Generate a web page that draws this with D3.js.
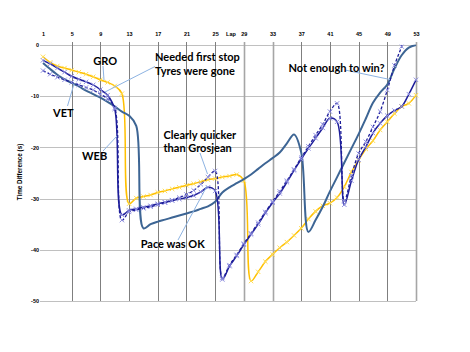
<!DOCTYPE html>
<html><head><meta charset="utf-8">
<script src="https://cdn.jsdelivr.net/npm/d3@7"></script>
<style>body{margin:0;background:#fff}svg{display:block}</style>
</head><body>
<svg id="chart" width="470" height="352"></svg>
<script>
const laps = [1,2,3,4,5,6,7,8,9,10,11,12,13,14,15,16,17,18,19,20,21,22,23,24,25,26,27,28,29,30,31,32,33,34,35,36,37,38,39,40,41,42,43,44,45,46,47,48,49,50,51,52,53];
const lapTicks = [1,5,9,13,17,21,25,29,33,37,41,45,49,53];
const yTicks = [0,-10,-20,-30,-40,-50];

const gro = [-2.3,-3.4,-4.1,-4.5,-4.9,-5.3,-5.7,-6.2,-6.8,-7.3,-8.0,-9.5,-31.0,-29.9,-29.6,-29.3,-28.8,-28.5,-28.1,-27.8,-27.4,-27.1,-26.7,-26.3,-26.1,-25.8,-25.6,-25.3,-26.5,-46.1,-44.3,-42.3,-40.9,-39.6,-38.5,-37.2,-35.8,-34.0,-32.5,-31.4,-30.9,-29.8,-27.7,-24.8,-22.5,-20.3,-18.7,-16.6,-15.0,-13.4,-12.0,-11.4,-9.8];
const vet = [-3.5,-4.7,-5.8,-6.7,-7.4,-8.1,-8.9,-9.6,-10.3,-11.1,-12.0,-13.0,-13.8,-15.8,-35.8,-35.0,-34.5,-34.1,-33.7,-33.3,-32.9,-32.5,-32.0,-31.5,-30.6,-28.8,-27.8,-27.0,-26.2,-25.3,-24.2,-23.1,-22.1,-21.0,-19.2,-17.5,-21.0,-36.5,-34.2,-31.6,-28.6,-25.8,-23.0,-20.2,-17.4,-14.4,-11.3,-9.3,-7.7,-4.6,-2.0,-0.5,0];
const web = [-3.0,-3.7,-4.5,-5.3,-6.1,-6.7,-7.2,-7.8,-8.7,-9.8,-12.5,-33.2,-32.3,-32.0,-31.7,-31.4,-31.0,-30.7,-30.4,-30.1,-29.8,-29.4,-28.7,-27.8,-28.5,-45.8,-43.2,-41.2,-39.0,-37.0,-35.0,-32.8,-30.8,-29.0,-26.8,-24.5,-22.3,-20.2,-18.2,-16.2,-14.3,-15.0,-31.2,-26.5,-22.4,-19.9,-17.2,-15.3,-13.8,-12.8,-12.0,-9.6,-6.8];
const rai = [-5.0,-5.7,-6.3,-6.8,-7.3,-7.8,-8.3,-8.8,-9.6,-10.5,-12.3,-34.2,-32.6,-32.2,-31.9,-31.6,-31.2,-30.8,-30.3,-29.8,-29.2,-28.4,-27.2,-25.8,-24.6,-45.5,-43.0,-41.0,-38.8,-36.8,-34.7,-32.6,-30.6,-28.6,-26.5,-24.3,-22.0,-19.8,-17.6,-15.5,-13.0,-11.4,-30.5,-25.5,-21.2,-18.9,-16.0,-13.0,-8.8,-4.0,-0.3,3.5,null];

const labels = [
  {t:"GRO", x:93.3, y:64.5},
  {t:"Needed first stop", x:155, y:61},
  {t:"Tyres were gone", x:155, y:75},
  {t:"VET", x:53, y:117},
  {t:"WEB", x:82, y:159.5},
  {t:"Clearly quicker", x:163.5, y:138.5},
  {t:"than Grosjean", x:163.5, y:152},
  {t:"Pace was OK", x:140.7, y:247.5},
  {t:"Not enough to win?", x:288.5, y:72}
];
const leaders = [
  [103,66,104,80],
  [155,66.5,105,92],
  [67.5,106,74,84],
  [103,151,117,136],
  [200,153,207.5,174],
  [178,240,207,186],
  [345,70,390,79.5]
];

const svg = d3.select("#chart");
const x = d3.scaleLinear().domain([1,53]).range([43,416]);
const y = d3.scaleLinear().domain([-50,0]).range([301,45]);

// gridlines
svg.append("g").selectAll("line").data(yTicks).join("line")
  .attr("x1",40).attr("x2",416).attr("y1",d=>Math.round(y(d))+0.5).attr("y2",d=>Math.round(y(d))+0.5)
  .attr("stroke","#c0c0c0").attr("stroke-width",1);
svg.append("g").selectAll("line").data(lapTicks.filter(d=>d>1)).join("line")
  .attr("x1",d=>Math.round(x(d))+0.5).attr("x2",d=>Math.round(x(d))+0.5).attr("y1",42).attr("y2",301)
  .attr("stroke",d=>(d===29||d===33||d===53)?"#a6a6a6":"#7f7f7f").attr("stroke-width",d=>(d===29||d===33||d===53)?1.6:1);

// axes
const xa = svg.append("g").attr("transform","translate(0,36)")
  .call(d3.axisTop(x).tickValues(lapTicks).tickSize(0).tickPadding(0));
xa.select(".domain").remove();
xa.selectAll("text").attr("font-family","Arial, Liberation Sans, sans-serif").attr("font-size",5.5).attr("font-weight","bold").attr("fill","#000");
const ya = svg.append("g").attr("transform","translate(39,0)")
  .call(d3.axisLeft(y).tickValues(yTicks).tickSize(0).tickPadding(0).tickFormat(d3.format("d")));
ya.select(".domain").remove();
ya.selectAll("text").attr("font-family","Arial, Liberation Sans, sans-serif").attr("font-size",5.5).attr("font-weight","bold").attr("fill","#000");
ya.selectAll("text").text(d=>d===0?"0":"-"+Math.abs(d));

svg.append("text").attr("x",231).attr("y",36).attr("text-anchor","middle")
  .attr("font-family","Arial, Liberation Sans, sans-serif").attr("font-size",5.5).attr("font-weight","bold").text("Lap");
svg.append("text").attr("transform","translate(21.5,172) rotate(-90)").attr("text-anchor","middle")
  .attr("font-family","Arial, Liberation Sans, sans-serif").attr("font-size",6.3).attr("font-weight","bold").text("Time Difference (s)");

// clip
svg.append("clipPath").attr("id","clip").append("rect").attr("x",38).attr("y",44.5).attr("width",385).attr("height",262);
const plot = svg.append("g").attr("clip-path","url(#clip)");

const line = d3.line().defined(d=>d[1]!=null).x(d=>x(d[0])).y(d=>y(d[1])).curve(d3.curveCatmullRom.alpha(0.5));
const pts = arr => laps.map((l,i)=>[l,arr[i]]);
const series = [
  {d:gro, c:"#FFC000", w:1.5, m:"#FFDD55", dash:null},
  {d:vet, c:"#3D6594", w:2, m:null, dash:null},
  {d:web, c:"#1E1E9A", w:1.5, m:"#8F8FE0", dash:null},
  {d:rai, c:"#1E1E9A", w:1.3, m:"#8F8FE0", dash:"3,2"}
];
series.forEach(s=>{
  plot.append("path").datum(pts(s.d)).attr("d",line).attr("fill","none")
    .attr("stroke",s.c).attr("stroke-width",s.w).attr("stroke-dasharray",s.dash);
  if(s.m){
    plot.append("g").selectAll("path").data(pts(s.d).filter(d=>d[1]!=null)).join("path")
      .attr("transform",d=>`translate(${x(d[0])},${y(d[1])})`)
      .attr("d","M-2.2,-2.2L2.2,2.2M-2.2,2.2L2.2,-2.2")
      .attr("stroke",s.m).attr("stroke-width",1).attr("fill","none");
  }
});

// leaders
svg.append("g").selectAll("line").data(leaders).join("line")
  .attr("x1",d=>d[0]).attr("y1",d=>d[1]).attr("x2",d=>d[2]).attr("y2",d=>d[3])
  .attr("stroke","#8DB3E2").attr("stroke-width",1);

// labels
svg.append("g").selectAll("text").data(labels).join("text")
  .attr("x",d=>d.x).attr("y",d=>d.y).text(d=>d.t)
  .attr("font-family","Lato, sans-serif").attr("font-weight","bold").attr("font-size",11).attr("fill","#000");
</script>
</body></html>
